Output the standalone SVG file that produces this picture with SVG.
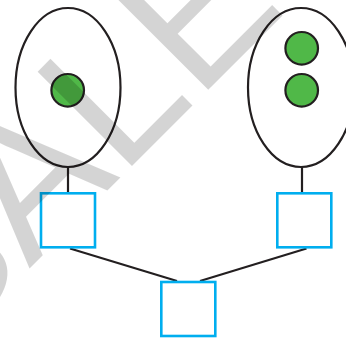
<svg xmlns="http://www.w3.org/2000/svg" width="346" height="338" viewBox="0 0 346 338">
<style>
.ell{fill:#fff;stroke:#231f20;stroke-width:2.2}
.dot{fill:#50b848;stroke:#231f20;stroke-width:2.2}
.box{fill:#fff;stroke:#00aeef;stroke-width:2.6}
.con{stroke:#231f20;stroke-width:2.2;fill:none}
.wm{font-family:"Liberation Sans",Arial,sans-serif;font-size:194px;fill:#000;fill-opacity:0.17}
</style>
<rect width="346" height="338" fill="#fff"/>
<g id="connectors">
<line class="con" x1="68" y1="167" x2="68" y2="193"/>
<line class="con" x1="302" y1="167" x2="302" y2="193"/>
<line class="con" x1="70" y1="248.5" x2="177" y2="281"/>
<line class="con" x1="306.5" y1="248.5" x2="200" y2="281"/>
</g>
<g id="left-cell">
<ellipse class="ell" cx="68" cy="87.5" rx="52.5" ry="79.5"/>
<circle class="dot" cx="67.7" cy="90.3" r="16.3"/>
</g>
<g id="right-cell">
<ellipse class="ell" cx="301" cy="87.5" rx="53" ry="79.5"/>
<circle class="dot" cx="301.7" cy="48.3" r="16.3"/>
<circle class="dot" cx="301.7" cy="90.3" r="16.3"/>
</g>
<g id="box-left"><rect class="box" x="41" y="193.3" width="54" height="54"/></g>
<g id="box-right"><rect class="box" x="277.3" y="193.3" width="54" height="54"/></g>
<g id="box-bottom"><rect class="box" x="161.3" y="282" width="54" height="54"/></g>
<text class="wm" transform="translate(29 269) rotate(-45)" x="-129">SALE</text>
</svg>
